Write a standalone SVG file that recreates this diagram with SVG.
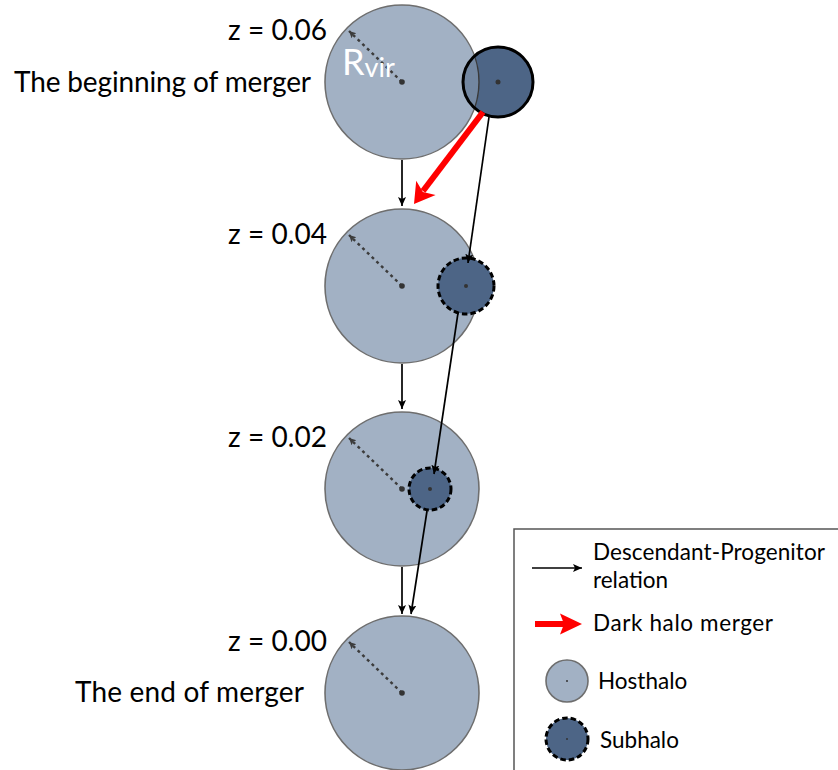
<svg xmlns="http://www.w3.org/2000/svg" width="838" height="770" viewBox="0 0 838 770">
<defs>
<style>
.host{fill:#a2b1c4;stroke:#6e6e6e;stroke-width:1.6}
.sub{fill:#4d6586;stroke:#000;stroke-width:3;stroke-dasharray:5.5 3}
.dot{fill:#333}
.rad{stroke:#3c3c3c;stroke-width:2.4;stroke-dasharray:3 3.5;fill:none}
.lbl{font-family:Lato,"Liberation Sans",sans-serif;font-size:28px;fill:#000}
.leg{font-family:Lato,"Liberation Sans",sans-serif;font-size:22.5px;fill:#000}
.con{stroke:#000;stroke-width:1.7;fill:none}
</style>
<marker id="ah" markerUnits="userSpaceOnUse" markerWidth="12" markerHeight="10" refX="9" refY="4" orient="auto">
<path d="M0,0 L9,4 L0,8 L2,4 z" fill="#000"/>
</marker>
<marker id="rh" markerUnits="userSpaceOnUse" markerWidth="10" markerHeight="10" refX="7" refY="3.5" orient="auto">
<path d="M0,0 L7,3.5 L0,7 L1.5,3.5 z" fill="#3c3c3c"/>
</marker>
<clipPath id="subclip"><circle cx="498" cy="82" r="35"/></clipPath>
</defs>
<rect width="838" height="770" fill="#fff"/>

<g id="host1">
<circle class="host" cx="402" cy="82" r="77"/>
</g>
<g id="sub1">
<circle cx="498" cy="82" r="35" fill="#4d6586"/>
<circle cx="402" cy="82" r="77" fill="#a2b1c4" fill-opacity="0.45" clip-path="url(#subclip)"/>
<circle cx="402" cy="82" r="77" fill="none" stroke="#3a3a3a" stroke-width="1.4" clip-path="url(#subclip)"/>
<circle cx="498" cy="82" r="35" fill="none" stroke="#000" stroke-width="3"/>
<circle class="dot" cx="498" cy="82" r="2.5"/>
</g>
<g id="host1-radius">
<line class="rad" x1="402" y1="82" x2="349" y2="31" marker-end="url(#rh)"/>
<circle class="dot" cx="402" cy="82" r="2.8"/>
<text x="342" y="75" font-family="Lato,'Liberation Sans',sans-serif" font-size="36" fill="#fff">R<tspan font-size="27" dy="2">vir</tspan></text>
</g>

<g id="host2">
<circle class="host" cx="402" cy="286" r="77"/>
<line class="rad" x1="402" y1="286" x2="349" y2="235" marker-end="url(#rh)"/>
<circle class="dot" cx="402" cy="286" r="2.8"/>
</g>
<g id="sub2">
<circle class="sub" cx="466" cy="286" r="28"/>
<circle class="dot" cx="466" cy="286" r="2"/>
</g>

<g id="host3">
<circle class="host" cx="402" cy="489" r="77"/>
<line class="rad" x1="402" y1="489" x2="349" y2="438" marker-end="url(#rh)"/>
<circle class="dot" cx="402" cy="489" r="2.8"/>
</g>
<g id="sub3">
<circle class="sub" cx="430" cy="489" r="21"/>
<circle class="dot" cx="430" cy="489" r="2"/>
</g>

<g id="host4">
<circle class="host" cx="402" cy="693" r="77"/>
<line class="rad" x1="402" y1="693" x2="349" y2="642" marker-end="url(#rh)"/>
<circle class="dot" cx="402" cy="693" r="2.8"/>
</g>

<g id="labels">
<text class="lbl" x="327" y="40" text-anchor="end" textLength="99" lengthAdjust="spacing">z = 0.06</text>
<text class="lbl" x="311" y="92" text-anchor="end" textLength="297" lengthAdjust="spacing">The beginning of merger</text>
<text class="lbl" x="327" y="244" text-anchor="end" textLength="99" lengthAdjust="spacing">z = 0.04</text>
<text class="lbl" x="327" y="447" text-anchor="end" textLength="99" lengthAdjust="spacing">z = 0.02</text>
<text class="lbl" x="327" y="651" text-anchor="end" textLength="99" lengthAdjust="spacing">z = 0.00</text>
<text class="lbl" x="304" y="702" text-anchor="end" textLength="229" lengthAdjust="spacing">The end of merger</text>
</g>

<g id="connectors">
<line class="con" x1="402" y1="160" x2="402" y2="206" marker-end="url(#ah)"/>
<line class="con" x1="402" y1="364" x2="402" y2="409" marker-end="url(#ah)"/>
<line class="con" x1="402" y1="567" x2="402" y2="614" marker-end="url(#ah)"/>
<line class="con" x1="489" y1="117" x2="468" y2="263" marker-end="url(#ah)"/>
<line class="con" x1="458" y1="313" x2="434" y2="474" marker-end="url(#ah)"/>
<line class="con" x1="427" y1="511" x2="411" y2="614" marker-end="url(#ah)"/>
<line x1="483" y1="112" x2="423" y2="191" stroke="#f00" stroke-width="6"/>
<path d="M414,204 L416.2,180.7 L422.9,191.9 L435.6,195.1 z" fill="#f00"/>
</g>

<g id="legend">
<rect x="514" y="529" width="330" height="250" fill="none" stroke="#555" stroke-width="1.5"/>
<line class="con" x1="532" y1="568" x2="582" y2="568" marker-end="url(#ah)"/>
<text class="leg" x="593" y="560" textLength="232" lengthAdjust="spacing">Descendant-Progenitor</text>
<text class="leg" x="593" y="588">relation</text>
<line x1="535" y1="624" x2="564" y2="624" stroke="#f00" stroke-width="6"/>
<path d="M582,624 L560,613.5 L564,624 L560,634.5 z" fill="#f00"/>
<text class="leg" x="593" y="631" textLength="180" lengthAdjust="spacing">Dark halo merger</text>
<circle class="host" cx="567" cy="681" r="21"/>
<circle class="dot" cx="567" cy="681" r="1"/>
<text class="leg" x="598" y="689">Hosthalo</text>
<circle class="sub" cx="567" cy="739" r="21"/>
<circle class="dot" cx="567" cy="739" r="1"/>
<text class="leg" x="600" y="748">Subhalo</text>
</g>
</svg>
